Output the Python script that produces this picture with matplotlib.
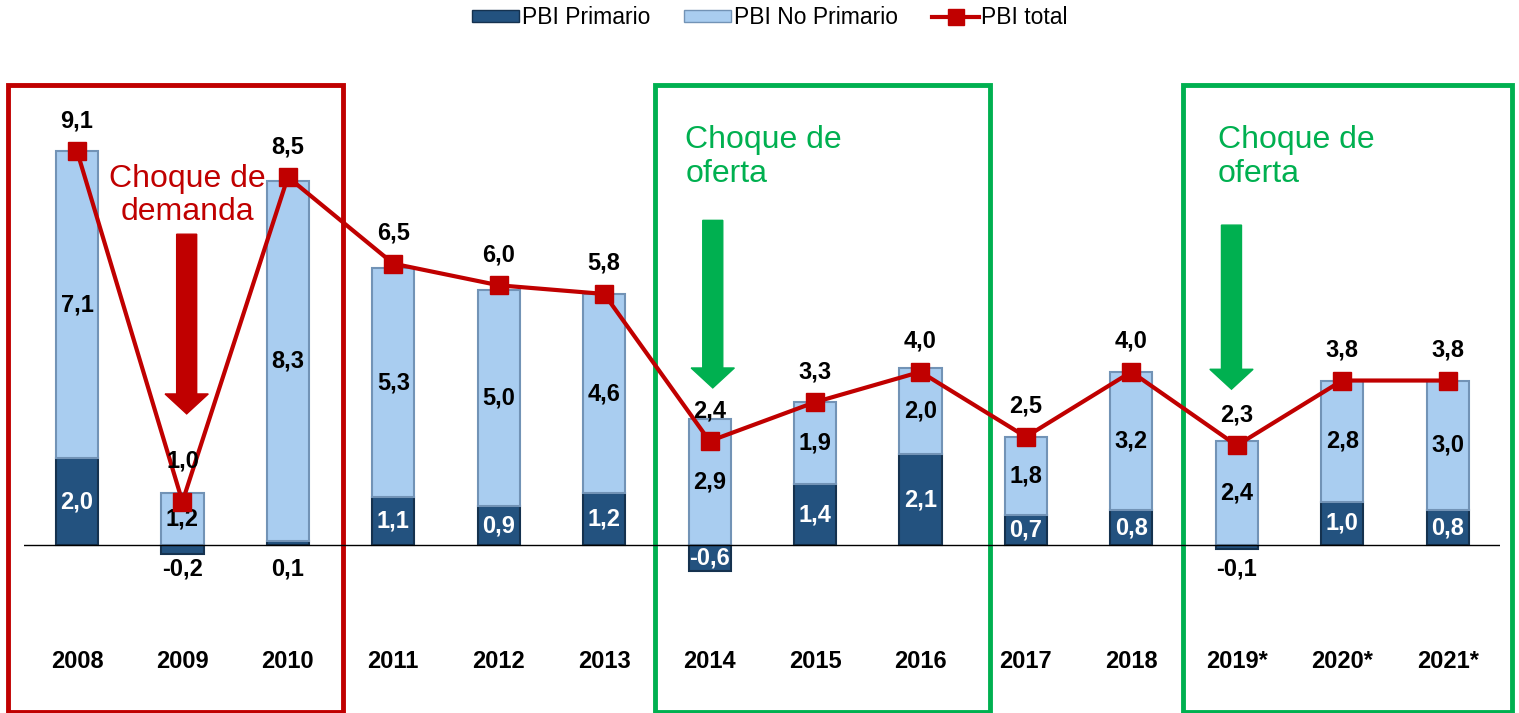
import matplotlib.pyplot as plt
from matplotlib.patches import Rectangle, FancyArrow, Patch
from matplotlib.lines import Line2D
import numpy as np

# =========================
# DATA
# =========================
years = ["2008", "2009", "2010", "2011", "2012", "2013", "2014",
         "2015", "2016", "2017", "2018", "2019*", "2020*", "2021*"]
primario = [2.0, -0.2, 0.1, 1.1, 0.9, 1.2, -0.6, 1.4, 2.1, 0.7, 0.8, -0.1, 1.0, 0.8]
no_primario = [7.1, 1.2, 8.3, 5.3, 5.0, 4.6, 2.9, 1.9, 2.0, 1.8, 3.2, 2.4, 2.8, 3.0]
total = [9.1, 1.0, 8.5, 6.5, 6.0, 5.8, 2.4, 3.3, 4.0, 2.5, 4.0, 2.3, 3.8, 3.8]

# =========================
# STYLE
# =========================
DARK = "#23527f"
LIGHT = "#a9cdf0"
RED = "#c00000"
GREEN = "#00b050"
FONT = "Liberation Sans"
plt.rcParams["font.family"] = [FONT, "DejaVu Sans"]

fig = plt.figure(figsize=(15.19, 7.13), dpi=100)
ax = fig.add_axes([0.016, 0.0, 0.9717, 1.0])
ax.set_xlim(-0.5, 13.5)
ax.set_ylim(-3.88, 12.59)
ax.axis("off")

x = np.arange(len(years))
prim = np.array(primario)
nop = np.array(no_primario)
bottom_np = np.where(prim > 0, prim, 0)

W = 0.4
ax.bar(x, prim, W, color=DARK, edgecolor="#15324f", linewidth=1.5, zorder=2)
ax.bar(x, nop, W, bottom=bottom_np, color=LIGHT, edgecolor="#7293b6",
       linewidth=1.5, zorder=2)
ax.axhline(0, color="black", linewidth=1, zorder=3)
ax.plot(x, total, color=RED, linewidth=3, marker="s", markersize=13, zorder=5)

# =========================
# LABELS
# =========================
for i in x:
    off = 22 if total[i] > 1.5 else 29
    ax.annotate(f"{total[i]:.1f}".replace(".", ","), (i, total[i]),
                xytext=(0, off), textcoords="offset points", ha="center",
                va="center", fontsize=17, fontweight="bold", zorder=6)
    ax.text(i, bottom_np[i] + nop[i] / 2, f"{nop[i]:.1f}".replace(".", ","),
            ha="center", va="center", fontsize=17, fontweight="bold", zorder=4)
    lab = f"{prim[i]:.1f}".replace(".", ",")
    if abs(prim[i]) < 0.3:
        ax.text(i, -0.55, lab, ha="center", va="center", fontsize=17,
                fontweight="bold", zorder=4)
    else:
        ax.text(i, prim[i] / 2, lab, ha="center", va="center", fontsize=17,
                fontweight="bold", color="white", zorder=4)
    ax.text(i, -2.7, years[i], ha="center", va="center", fontsize=17,
            fontweight="bold")

# =========================
# BOXES, ARROWS, NOTES
# =========================
boxes = [(-0.655, 2.524, RED), (5.484, 8.662, GREEN), (10.49, 13.615, GREEN)]
for x0, x1, c in boxes:
    ax.add_patch(Rectangle((x0, -3.86), x1 - x0, 14.48, fill=False,
                           edgecolor=c, linewidth=3.5, clip_on=False, zorder=1))

arrows = [(1.04, 7.18, 3.03, RED), (6.03, 7.5, 3.63, GREEN), (10.95, 7.39, 3.6, GREEN)]
for ax_x, y0, y1, c in arrows:
    ax.add_patch(FancyArrow(ax_x, y0, 0, y1 - y0, width=0.19, head_width=0.41,
                            head_length=0.46, length_includes_head=True,
                            color=c, zorder=4))

ax.text(1.05, 8.08, "Choque de\ndemanda", color=RED, fontsize=23,
        ha="center", va="center", linespacing=1.15, zorder=6)
ax.text(5.77, 8.96, "Choque de\noferta", color=GREEN, fontsize=23,
        ha="left", va="center", linespacing=1.15, zorder=6)
ax.text(10.82, 8.96, "Choque de\noferta", color=GREEN, fontsize=23,
        ha="left", va="center", linespacing=1.15, zorder=6)

# =========================
# LEGEND
# =========================
handles = [Patch(facecolor=DARK, edgecolor="#15324f"),
           Patch(facecolor=LIGHT, edgecolor="#7293b6"),
           Line2D([], [], color=RED, linewidth=3, marker="s", markersize=11)]
fig.legend(handles, ["PBI Primario", "PBI No Primario", "PBI total"],
           loc="center", bbox_to_anchor=(0.507, 0.975), ncol=3, frameon=False,
           fontsize=16.5, handlelength=2.05, handleheight=0.45, columnspacing=1.5,
           handletextpad=0.1)

fig.savefig("out.png", dpi=100)
